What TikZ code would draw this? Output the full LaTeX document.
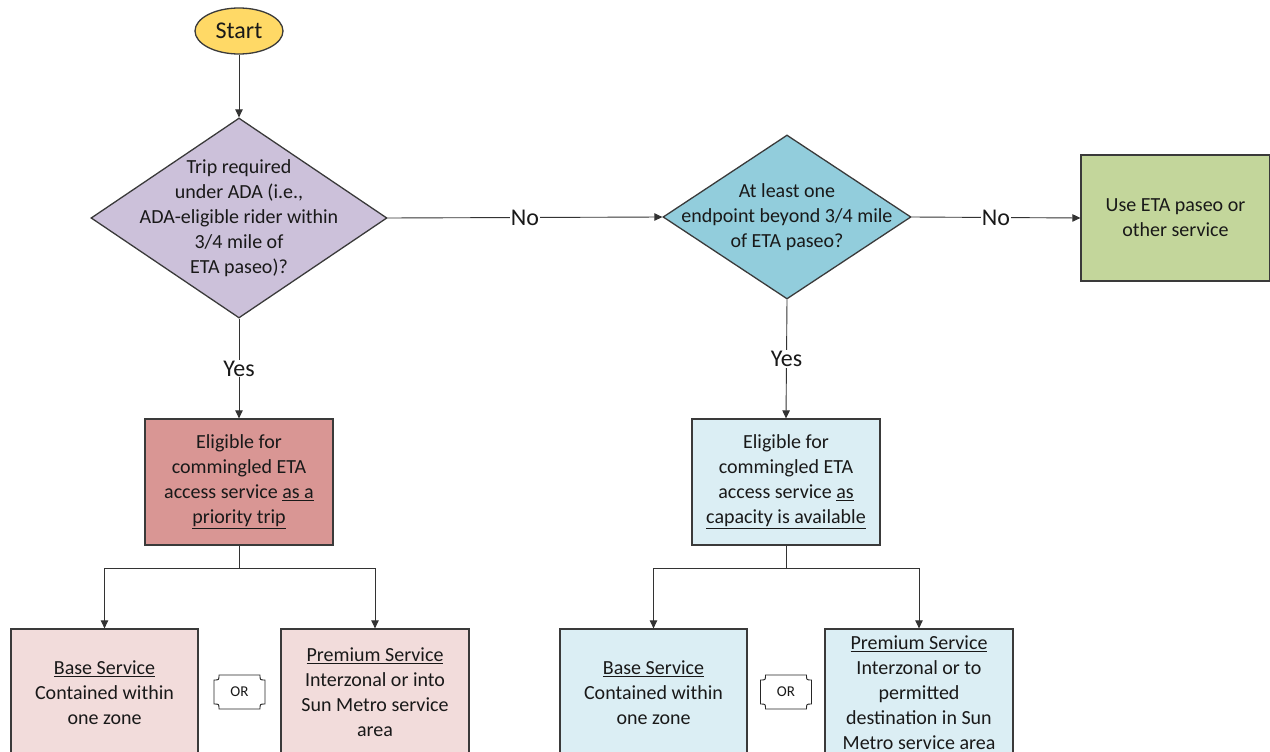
\documentclass[tikz,border=0pt]{standalone}
\usepackage{fontspec}
\setmainfont{Carlito}
\usetikzlibrary{shapes.geometric,arrows.meta}
\definecolor{cyel}{HTML}{FFD966}
\definecolor{clav}{HTML}{CCC1DA}
\definecolor{cteal}{HTML}{92CDDC}
\definecolor{cgreen}{HTML}{C3D69B}
\definecolor{cred}{HTML}{D99694}
\definecolor{clblue}{HTML}{DBEEF4}
\definecolor{cpink}{HTML}{F2DCDB}
\definecolor{cline}{HTML}{3A3A3A}
\tikzset{
  x=1pt, y=-1pt,
  every node/.style={font=\fontsize{20}{25}\selectfont, text=black!90},
  box/.style={draw=cline, line width=1.3pt, rectangle, inner sep=0pt, align=center},
  dia/.style={draw=cline, line width=1.3pt, diamond, inner sep=0pt},
  conn/.style={draw=black!80, line width=0.9pt},
  arr/.style={conn, -{Triangle[length=8pt,width=7.5pt]}},
  lab/.style={fill=white, inner sep=1pt, font=\fontsize{24}{28}\selectfont},
  ortxt/.style={font=\fontsize{15}{17}\selectfont, inner sep=0pt}
}
\begin{document}
\begin{tikzpicture}
\useasboundingbox (0,0) rectangle (1270,752);
\clip (0,0) rectangle (1270,752);
% start
\node[draw=cline, line width=1.3pt, ellipse, fill=cyel, minimum width=88pt, minimum height=46pt, inner sep=0pt, font=\fontsize{24}{28}\selectfont] (start) at (239,31) {Start};
% diamonds
\node[dia, fill=clav, minimum width=296pt, minimum height=200pt] (d1) at (239,218) {};
\node[align=center, inner sep=0pt] (d1t) at (239,218) {Trip required\\under ADA (i.e.,\\ADA-eligible rider within\\3/4 mile of\\ETA paseo)?};
\node[dia, fill=cteal, minimum width=248pt, minimum height=164pt] (d2) at (787,217) {};
\node[align=center, inner sep=0pt] (d2t) at (787,217) {At least one\\endpoint beyond 3/4 mile\\of ETA paseo?};
% green box
\node[box, fill=cgreen, minimum width=189pt, minimum height=126pt] (use) at (1175.5,218) {Use ETA paseo or\\other service};
% middle boxes
\node[box, fill=cred, minimum width=188pt, minimum height=126pt] (red) at (239,482) {Eligible for\\commingled ETA\\access service \underline{as a}\\\underline{priority trip}};
\node[box, fill=clblue, minimum width=188pt, minimum height=126pt] (lb) at (786,482) {Eligible for\\commingled ETA\\access service \underline{as}\\\underline{capacity is available}};
% bottom boxes
\node[box, fill=cpink, minimum width=187pt, minimum height=127pt] (bl) at (104.5,692.5) {\underline{Base Service}\\Contained within\\one zone};
\node[box, fill=cpink, minimum width=188pt, minimum height=127pt] (pl) at (375,692.5) {\underline{Premium Service}\\Interzonal or into\\Sun Metro service\\area};
\node[box, fill=clblue, minimum width=187pt, minimum height=127pt] (bb) at (653.5,692.5) {\underline{Base Service}\\Contained within\\one zone};
\node[box, fill=clblue, minimum width=188pt, minimum height=127pt] (pb) at (919,692.5) {\underline{Premium Service}\\Interzonal or to\\permitted\\destination in Sun\\Metro service area};
% OR plaques
\foreach \cx/\nm in {239.5/or1, 786/or2}{
  \pgfmathsetmacro{\xa}{\cx-25.5}
  \pgfmathsetmacro{\xb}{\cx+25.5}
  \def\ya{675}\def\yb{709}\def\r{5}
  \draw[draw=black!85, line width=0.9pt, fill=white]
    (\xa+\r,\ya) -- (\xb-\r,\ya) .. controls (\xb-\r,\ya+\r) .. (\xb,\ya+\r)
    -- (\xb,\yb-\r) .. controls (\xb-\r,\yb-\r) .. (\xb-\r,\yb)
    -- (\xa+\r,\yb) .. controls (\xa+\r,\yb-\r) .. (\xa,\yb-\r)
    -- (\xa,\ya+\r) .. controls (\xa+\r,\ya+\r) .. (\xa+\r,\ya) -- cycle;
  \node[ortxt] (\nm) at (\cx,692) {OR};
}
% connectors
\draw[arr] (start.south) -- (d1.north);
\draw[arr] (d1.east) -- node[lab] (no1) {No} (d2.west);
\draw[arr] (d2.east) -- node[lab] (no2) {No} (use.west);
\draw[arr] (d1.south) -- node[lab] (yes1) {Yes} (red.north);
\draw[arr] (d2.south) -- node[lab] (yes2) {Yes} (lb.north);
\coordinate (j1) at (239,568);
\coordinate (j2) at (786,568);
\draw[conn] (red.south) -- (j1);
\draw[arr] (j1) -| (bl.north);
\draw[arr] (j1) -| (pl.north);
\draw[conn] (lb.south) -- (j2);
\draw[arr] (j2) -| (bb.north);
\draw[arr] (j2) -| (pb.north);
\end{tikzpicture}
\end{document}
